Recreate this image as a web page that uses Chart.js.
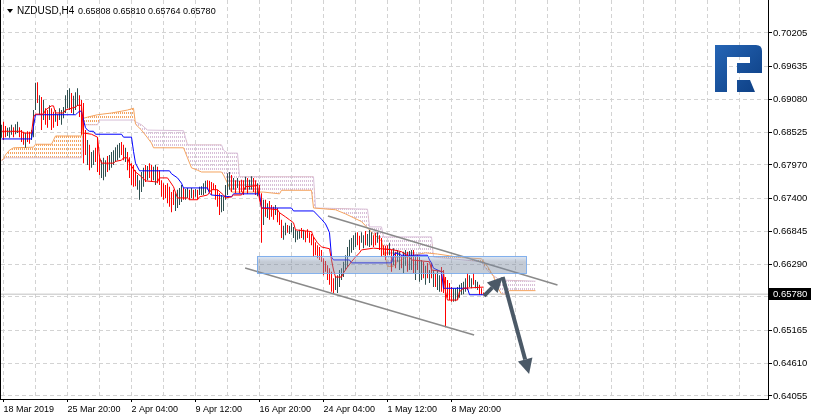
<!DOCTYPE html>
<html>
<head>
<meta charset="utf-8">
<title>NZDUSD H4</title>
<script src="https://cdn.jsdelivr.net/npm/chart.js@4.4.1/dist/chart.umd.min.js"></script>
<style>
  html, body { margin: 0; padding: 0; background: #fff; }
  canvas { display: block; }
</style>
</head>
<body>
<canvas id="chart" width="814" height="420"></canvas>
<script>
// NZDUSD H4 bars, index 0 = first visible bar (18 Mar 2019), one bar per 4 hours
const highs = [
  0.6865, 0.6870, 0.6863, 0.6860, 0.6861, 0.6865, 0.6861, 0.6866, 0.6870, 0.6861,
  0.6856, 0.6853, 0.6851, 0.6854, 0.6853, 0.6856, 0.6890, 0.6936, 0.6937, 0.6915,
  0.6912, 0.6907, 0.6893, 0.6890, 0.6898, 0.6893, 0.6887, 0.6890, 0.6883, 0.6893,
  0.6890, 0.6895, 0.6915, 0.6924, 0.6927, 0.6919, 0.6914, 0.6920, 0.6927, 0.6915,
  0.6907, 0.6902, 0.6856, 0.6839, 0.6831, 0.6819, 0.6822, 0.6826, 0.6844, 0.6814,
  0.6805, 0.6809, 0.6805, 0.6812, 0.6814, 0.6819, 0.6822, 0.6827, 0.6831, 0.6834,
  0.6836, 0.6831, 0.6826, 0.6819, 0.6810, 0.6800, 0.6797, 0.6788, 0.6780, 0.6771,
  0.6785, 0.6792, 0.6797, 0.6795, 0.6800, 0.6797, 0.6794, 0.6797, 0.6794, 0.6788,
  0.6771, 0.6766, 0.6763, 0.6766, 0.6760, 0.6751, 0.6755, 0.6749, 0.6755, 0.6758,
  0.6763, 0.6758, 0.6756, 0.6758, 0.6755, 0.6758, 0.6755, 0.6756, 0.6755, 0.6760,
  0.6761, 0.6766, 0.6770, 0.6771, 0.6770, 0.6768, 0.6766, 0.6763, 0.6755, 0.6749,
  0.6746, 0.6743, 0.6763, 0.6783, 0.6785, 0.6780, 0.6775, 0.6771, 0.6775, 0.6770,
  0.6772, 0.6771, 0.6777, 0.6775, 0.6772, 0.6778, 0.6775, 0.6771, 0.6766, 0.6763,
  0.6749, 0.6738, 0.6738, 0.6732, 0.6736, 0.6729, 0.6726, 0.6729, 0.6724, 0.6717,
  0.6704, 0.6694, 0.6699, 0.6695, 0.6694, 0.6699, 0.6692, 0.6687, 0.6685, 0.6687,
  0.6690, 0.6687, 0.6685, 0.6688, 0.6683, 0.6680, 0.6675, 0.6666, 0.6661, 0.6658,
  0.6653, 0.6639, 0.6634, 0.6627, 0.6622, 0.6616, 0.6605, 0.6609, 0.6610, 0.6619,
  0.6622, 0.6633, 0.6644, 0.6658, 0.6670, 0.6673, 0.6678, 0.6682, 0.6683, 0.6677,
  0.6683, 0.6678, 0.6685, 0.6680, 0.6687, 0.6683, 0.6678, 0.6682, 0.6683, 0.6678,
  0.6673, 0.6661, 0.6660, 0.6661, 0.6665, 0.6653, 0.6656, 0.6650, 0.6653, 0.6650,
  0.6644, 0.6650, 0.6653, 0.6650, 0.6651, 0.6653, 0.6653, 0.6643, 0.6644, 0.6641,
  0.6636, 0.6633, 0.6626, 0.6631, 0.6619, 0.6631, 0.6619, 0.6614, 0.6619, 0.6610,
  0.6624, 0.6619, 0.6607, 0.6602, 0.6597, 0.6590, 0.6588, 0.6588, 0.6590, 0.6594,
  0.6597, 0.6599, 0.6605, 0.6614, 0.6610, 0.6605, 0.6614, 0.6602, 0.6599, 0.6594,
  0.6588, 0.6581
];
const lows = [
  0.6843, 0.6839, 0.6844, 0.6846, 0.6843, 0.6848, 0.6844, 0.6849, 0.6851, 0.6844,
  0.6836, 0.6831, 0.6826, 0.6836, 0.6833, 0.6839, 0.6844, 0.6890, 0.6902, 0.6882,
  0.6856, 0.6873, 0.6865, 0.6860, 0.6873, 0.6856, 0.6860, 0.6870, 0.6863, 0.6873,
  0.6865, 0.6876, 0.6885, 0.6893, 0.6890, 0.6885, 0.6882, 0.6890, 0.6897, 0.6878,
  0.6848, 0.6800, 0.6814, 0.6797, 0.6788, 0.6792, 0.6797, 0.6802, 0.6785, 0.6780,
  0.6775, 0.6771, 0.6777, 0.6785, 0.6788, 0.6792, 0.6797, 0.6802, 0.6805, 0.6809,
  0.6814, 0.6805, 0.6802, 0.6788, 0.6775, 0.6763, 0.6760, 0.6761, 0.6755, 0.6738,
  0.6751, 0.6760, 0.6768, 0.6771, 0.6775, 0.6768, 0.6771, 0.6763, 0.6766, 0.6763,
  0.6743, 0.6738, 0.6741, 0.6732, 0.6726, 0.6717, 0.6729, 0.6719, 0.6724, 0.6729,
  0.6734, 0.6738, 0.6738, 0.6741, 0.6738, 0.6741, 0.6739, 0.6743, 0.6738, 0.6746,
  0.6746, 0.6746, 0.6749, 0.6755, 0.6751, 0.6746, 0.6755, 0.6738, 0.6726, 0.6712,
  0.6717, 0.6719, 0.6738, 0.6746, 0.6755, 0.6751, 0.6755, 0.6749, 0.6758, 0.6749,
  0.6751, 0.6746, 0.6755, 0.6748, 0.6755, 0.6755, 0.6751, 0.6746, 0.6744, 0.6738,
  0.6665, 0.6695, 0.6709, 0.6707, 0.6704, 0.6709, 0.6704, 0.6712, 0.6700, 0.6695,
  0.6673, 0.6670, 0.6678, 0.6682, 0.6680, 0.6683, 0.6673, 0.6666, 0.6670, 0.6672,
  0.6673, 0.6670, 0.6666, 0.6673, 0.6665, 0.6661, 0.6641, 0.6644, 0.6639, 0.6636,
  0.6633, 0.6610, 0.6616, 0.6602, 0.6594, 0.6582, 0.6580, 0.6585, 0.6580, 0.6590,
  0.6602, 0.6607, 0.6619, 0.6624, 0.6641, 0.6648, 0.6653, 0.6658, 0.6661, 0.6653,
  0.6665, 0.6656, 0.6661, 0.6660, 0.6658, 0.6661, 0.6658, 0.6661, 0.6665, 0.6653,
  0.6641, 0.6644, 0.6636, 0.6644, 0.6644, 0.6616, 0.6627, 0.6622, 0.6633, 0.6619,
  0.6622, 0.6614, 0.6626, 0.6616, 0.6619, 0.6619, 0.6614, 0.6602, 0.6619, 0.6599,
  0.6602, 0.6605, 0.6594, 0.6605, 0.6597, 0.6605, 0.6590, 0.6590, 0.6585, 0.6582,
  0.6582, 0.6580, 0.6522, 0.6572, 0.6568, 0.6565, 0.6565, 0.6566, 0.6568, 0.6572,
  0.6577, 0.6578, 0.6582, 0.6585, 0.6590, 0.6588, 0.6594, 0.6588, 0.6585, 0.6577,
  0.6577, 0.6576
];
// g = bull bar (dark), r = bear bar (red)
const barSide =
  "grrgggrggr" + "rrgrrgggrg" + "rgrrgrrgrg" + "gggggrgggr" + "rrrgrggrrr" +
  "gggrgggggg" + "rrgrrrrrgg" + "ggrgrrggrr" + "rrrrrrrggg" + "grggrgrgrg" +
  "gggrrrrrrr" + "gggggrgrgr" + "rrgrggrrgr" + "rgrgrrrgrr" + "rggrgggggg" +
  "rgrrrrrrrr" + "rrrrrrrggg" + "ggggggggrr" + "ggrgggrrgr" + "rrrrgrgrgg" +
  "rggrggrgrg" + "grgrgrgrgg" + "rrrrrrgggg" + "gggrggrggr" + "rr";

// Ichimoku lines, [bar, price] at the points where they change
const tenkan = [
  [0, 0.6854], [10, 0.6854], [11, 0.6851], [15, 0.6851], [16, 0.6878], [17, 0.6883], [21, 0.6883],
  [22, 0.6890], [24, 0.6895], [25, 0.6897], [26, 0.6897], [27, 0.6885], [31, 0.6885], [32, 0.6890],
  [35, 0.6893], [37, 0.6895], [38, 0.6898], [40, 0.6898], [41, 0.6851], [45, 0.6849], [48, 0.6844],
  [49, 0.6810], [50, 0.6800], [56, 0.6800], [57, 0.6803], [60, 0.6805], [61, 0.6809], [63, 0.6809],
  [64, 0.6800], [67, 0.6785], [70, 0.6777], [72, 0.6770], [78, 0.6768], [79, 0.6775], [83, 0.6775],
  [84, 0.6770], [86, 0.6760], [88, 0.6741], [93, 0.6741], [94, 0.6738], [98, 0.6738], [99, 0.6743],
  [103, 0.6746], [105, 0.6755], [108, 0.6755], [111, 0.6746], [112, 0.6741], [115, 0.6743],
  [116, 0.6746], [120, 0.6746], [122, 0.6760], [128, 0.6762], [129, 0.6738], [130, 0.6724],
  [138, 0.6721], [139, 0.6716], [142, 0.6709], [144, 0.6704], [146, 0.6699], [147, 0.6687],
  [155, 0.6684], [156, 0.6675], [158, 0.6665], [160, 0.6658], [164, 0.6655], [165, 0.6636],
  [166, 0.6619], [167, 0.6607], [170, 0.6607], [171, 0.6614], [173, 0.6624], [175, 0.6633],
  [177, 0.6641], [179, 0.6648], [180, 0.6653], [186, 0.6656], [196, 0.6653], [200, 0.6650],
  [204, 0.6641], [205, 0.6636], [214, 0.6633], [215, 0.6619], [221, 0.6616], [222, 0.6582],
  [223, 0.6568], [228, 0.6568], [229, 0.6582], [231, 0.6588], [241, 0.6590]
];
const kijun = [
  [0, 0.6841], [15, 0.6841], [16, 0.6862], [17, 0.6882], [37, 0.6882], [38, 0.6885], [39, 0.6888],
  [40, 0.6888], [41, 0.6873], [42, 0.6860], [43, 0.6856], [44, 0.6854], [46, 0.6854], [47, 0.6849],
  [60, 0.6849], [61, 0.6844], [65, 0.6844], [66, 0.6820], [67, 0.6800], [69, 0.6787], [84, 0.6787],
  [85, 0.6782], [88, 0.6775], [90, 0.6766], [91, 0.6758], [103, 0.6758], [104, 0.6749], [105, 0.6746],
  [115, 0.6743], [116, 0.6748], [129, 0.6748], [130, 0.6724], [145, 0.6724], [146, 0.6719],
  [156, 0.6719], [158, 0.6712], [160, 0.6705], [162, 0.6697], [163, 0.6690], [164, 0.6682],
  [165, 0.6641], [166, 0.6636], [174, 0.6636], [175, 0.6631], [195, 0.6631], [196, 0.6643],
  [197, 0.6648], [200, 0.6644], [213, 0.6644], [214, 0.6636], [215, 0.6631], [216, 0.6622],
  [220, 0.6616], [221, 0.6588], [233, 0.6588], [234, 0.6577], [241, 0.6577]
];
const senkouA = [
  [0, 0.6805], [1, 0.6807], [2, 0.6814], [4, 0.6822], [6, 0.6826], [16, 0.6827], [17, 0.6832],
  [25, 0.6832], [26, 0.6839], [27, 0.6846], [40, 0.6846], [41, 0.6876], [43, 0.6878], [48, 0.6882],
  [55, 0.6885], [60, 0.6888], [63, 0.6890], [66, 0.6893], [67, 0.6866], [70, 0.6856], [73, 0.6843],
  [75, 0.6834], [76, 0.6826], [91, 0.6826], [93, 0.6809], [95, 0.6792], [98, 0.6788], [100, 0.6785],
  [110, 0.6785], [111, 0.6780], [113, 0.6766], [115, 0.6751], [131, 0.6751], [139, 0.6748],
  [140, 0.6754], [155, 0.6754], [156, 0.6724], [167, 0.6721], [172, 0.6714], [180, 0.6701],
  [185, 0.6683], [190, 0.6668], [193, 0.6625], [196, 0.6625], [198, 0.6633], [202, 0.6640],
  [206, 0.6644], [212, 0.6648], [218, 0.6646], [224, 0.6643], [230, 0.6640], [240, 0.6638],
  [243, 0.6625], [246, 0.6608], [248, 0.6590], [250, 0.6578], [252, 0.6578], [254, 0.6584],
  [267, 0.6584]
];
const senkouB = [
  [0, 0.6804], [2, 0.6809], [40, 0.6809], [41, 0.6865], [48, 0.6865], [49, 0.6873], [66, 0.6873],
  [67, 0.6870], [70, 0.6865], [73, 0.6856], [91, 0.6855], [92, 0.6843], [93, 0.6831], [110, 0.6831],
  [111, 0.6822], [113, 0.6817], [118, 0.6817], [119, 0.6777], [156, 0.6777], [157, 0.6724],
  [183, 0.6722], [184, 0.6692], [190, 0.6692], [191, 0.6675], [215, 0.6675], [216, 0.6641],
  [240, 0.6633], [242, 0.6622], [245, 0.6612], [249, 0.6602], [267, 0.6600]
];

// drawn objects, in bars and prices
const channelTop = [[163.2, 0.67105], [278, 0.65936]];
const channelBottom = [[121.8, 0.66224], [236.3, 0.65089]];
const zone = { from: 127.8, to: 262.3, high: 0.66427, low: 0.66139 };
const arrowUp = [[241.3, 0.65750], [250.6, 0.66072]];
const arrowDown = [[250.6, 0.66072], [263.8, 0.64428]];
const lastPrice = 0.65780;

const timeLabels = ["18 Mar 2019", "25 Mar 20:00", "2 Apr 04:00", "9 Apr 12:00",
  "16 Apr 20:00", "24 Apr 04:00", "1 May 12:00", "8 May 20:00"];
const timeLabelBars = [1, 33, 65, 97, 129, 161, 193, 225];
const priceTicks = [0.70205, 0.69635, 0.69080, 0.68525, 0.67970, 0.67400,
  0.66845, 0.66290, 0.65735, 0.65165, 0.64610, 0.64055];
const priceLabels = ["0.70205", "0.69635", "0.69080", "0.68525", "0.67970", "0.67400",
  "0.66845", "0.66290", "0.65735", "0.65165", "0.64610", "0.64055"];
const title = "NZDUSD,H4";
const ohlc = "0.65808 0.65810 0.65764 0.65780";

const FONT = "'Liberation Sans', Arial, sans-serif";
const pts = arr => arr.map(p => ({ x: p[0], y: p[1] }));

function barsOf(side) {
  const out = [];
  highs.forEach((h, i) => { if (barSide[i] === side) out.push({ x: i, y: [lows[i], h] }); });
  return out;
}

function hatch(color) {
  const c = document.createElement("canvas");
  c.width = 2; c.height = 4;
  const g = c.getContext("2d");
  g.fillStyle = color;
  g.fillRect(0, 0, 1, 2);
  return g.createPattern(c, "repeat");
}

function drawArrow(ctx, ax, ay, bx, by) {
  const ang = Math.atan2(by - ay, bx - ax);
  const len = 15, half = 7.5;
  const sx = bx - Math.cos(ang) * len, sy = by - Math.sin(ang) * len;
  ctx.beginPath();
  ctx.moveTo(ax, ay);
  ctx.lineTo(sx, sy);
  ctx.stroke();
  ctx.beginPath();
  ctx.moveTo(bx, by);
  ctx.lineTo(sx + Math.sin(ang) * half, sy - Math.cos(ang) * half);
  ctx.lineTo(sx - Math.sin(ang) * half, sy + Math.cos(ang) * half);
  ctx.closePath();
  ctx.fill();
}

function drawLogo(ctx, left, top) {
  const grad = ctx.createLinearGradient(left, top, left + 46, top + 46);
  grad.addColorStop(0, "#2565b5");
  grad.addColorStop(1, "#0d3f84");
  ctx.fillStyle = grad;
  ctx.beginPath();
  ctx.moveTo(left, top);
  ctx.lineTo(left + 41, top);
  ctx.quadraticCurveTo(left + 47, top, left + 47, top + 6);
  ctx.lineTo(left + 47, top + 28);
  ctx.lineTo(left + 22, top + 28);
  ctx.lineTo(left + 22, top + 18);
  ctx.lineTo(left + 35, top + 18);
  ctx.lineTo(left + 35, top + 12);
  ctx.lineTo(left + 12, top + 12);
  ctx.lineTo(left + 12, top + 47);
  ctx.lineTo(left, top + 47);
  ctx.closePath();
  ctx.fill();
  ctx.beginPath();
  ctx.moveTo(left + 22, top + 35);
  ctx.lineTo(left + 35, top + 35);
  ctx.lineTo(left + 40, top + 47);
  ctx.lineTo(left + 22, top + 47);
  ctx.closePath();
  ctx.fill();
}

const overlay = {
  id: "overlay",
  afterDatasetsDraw(chart) {
    const { ctx, scales: { x, y } } = chart;
    ctx.save();
    const x0 = x.getPixelForValue(zone.from), x1 = x.getPixelForValue(zone.to);
    const y0 = y.getPixelForValue(zone.high), y1 = y.getPixelForValue(zone.low);
    // support/resistance zone: lighter band on top, slate grey below
    const shade = ctx.createLinearGradient(0, y0, 0, y1);
    shade.addColorStop(0, "rgba(175,200,235,0.40)");
    shade.addColorStop(0.35, "rgba(120,135,158,0.44)");
    shade.addColorStop(1, "rgba(125,140,162,0.44)");
    ctx.fillStyle = shade;
    ctx.fillRect(x0, y0, x1 - x0, y1 - y0);
    ctx.strokeStyle = "rgba(120,170,235,0.9)";
    ctx.lineWidth = 1;
    ctx.strokeRect(Math.round(x0) + 0.5, Math.round(y0) + 0.5, Math.round(x1 - x0), Math.round(y1 - y0));

    ctx.strokeStyle = "#4b5967";
    ctx.fillStyle = "#4b5967";
    ctx.lineWidth = 4;
    for (const a of [arrowUp, arrowDown]) {
      drawArrow(ctx, x.getPixelForValue(a[0][0]), y.getPixelForValue(a[0][1]),
        x.getPixelForValue(a[1][0]), y.getPixelForValue(a[1][1]));
    }
    ctx.restore();
  },
  afterDraw(chart) {
    const { ctx, chartArea, scales: { y } } = chart;
    ctx.save();
    // left frame
    ctx.fillStyle = "#000";
    ctx.fillRect(0, 0, 1, chartArea.bottom + 1);
    // header
    ctx.beginPath();
    ctx.moveTo(7, 9); ctx.lineTo(13, 9); ctx.lineTo(10, 13); ctx.closePath();
    ctx.fill();
    ctx.textBaseline = "alphabetic";
    ctx.font = "10px " + FONT;
    ctx.fillText(title, 17, 14);
    ctx.font = "9px " + FONT;
    ctx.fillText(ohlc, 78, 14);
    // last price box
    const py = Math.round(y.getPixelForValue(lastPrice));
    ctx.fillStyle = "#000";
    ctx.fillRect(chartArea.right + 1, py - 6, 42, 12);
    ctx.fillStyle = "#fff";
    ctx.font = "9.5px " + FONT;
    ctx.textBaseline = "middle";
    ctx.fillText(lastPrice.toFixed(5), chartArea.right + 5, py + 0.5);
    drawLogo(ctx, 715, 45);
    ctx.restore();
  }
};

const gridBars = [];
for (let b = 1; b < 384; b += 16) gridBars.push(b);

const lineDs = (data, color, width) => ({
  type: "line", data: pts(data), borderColor: color, borderWidth: width,
  pointRadius: 0, tension: 0, fill: false
});
const barDs = (side, color) => ({
  type: "bar", data: barsOf(side), backgroundColor: color, borderColor: color,
  barThickness: 1, inflateAmount: 0, borderWidth: 0, stack: "ohlc"
});

const noPadding = s => { s.paddingTop = 0; s.paddingBottom = 0; s.paddingLeft = 0; s.paddingRight = 0; };

new Chart(document.getElementById("chart"), {
  type: "line",
  data: {
    datasets: [
      lineDs(channelTop, "#8a8a8a", 1.5),
      lineDs(channelBottom, "#8a8a8a", 1.5),
      lineDs(tenkan, "#ff0000", 1),
      lineDs(kijun, "#0000ff", 1),
      barDs("r", "#ff0000"),
      barDs("g", "#2f4f4f"),
      lineDs([[-0.25, lastPrice], [383.25, lastPrice]], "#c0c0c0", 1),
      Object.assign(lineDs(senkouA, "#f4a460", 1), {
        fill: { target: 8, above: hatch("#f4a460"), below: hatch("#d8bfd8") }
      }),
      lineDs(senkouB, "#d8bfd8", 1)
    ]
  },
  options: {
    responsive: false,
    animation: false,
    devicePixelRatio: 1,
    events: [],
    layout: { padding: { left: 1, top: 0, right: 0, bottom: 0 } },
    plugins: { legend: { display: false }, tooltip: { enabled: false } },
    scales: {
      x: {
        type: "linear",
        min: -0.25,
        max: 383.25,
        offset: false,
        afterBuildTicks: s => { s.ticks = gridBars.map(v => ({ value: v })); },
        afterFit: s => { s.height = 21; noPadding(s); },
        grid: {
          color: "#d3d3d3", offset: false, drawTicks: true, tickLength: 3, tickBorderDash: [],
          tickColor: c => timeLabelBars.includes(c.tick && c.tick.value) ? "#000" : "rgba(0,0,0,0)"
        },
        border: { display: true, color: "#000", width: 1, dash: [4, 3] },
        ticks: {
          autoSkip: false, maxRotation: 0, align: "start", padding: 2, color: "#000",
          font: { family: FONT, size: 9 },
          callback: v => { const k = timeLabelBars.indexOf(v); return k < 0 ? "" : timeLabels[k]; }
        }
      },
      y: {
        type: "linear",
        position: "right",
        stacked: false,
        min: 0.64004,
        max: 0.70764,
        afterBuildTicks: s => { s.ticks = priceTicks.map(v => ({ value: v })); },
        afterFit: s => { s.width = 46; noPadding(s); },
        grid: { color: "#d3d3d3", drawTicks: true, tickLength: 4, tickColor: "#000", tickBorderDash: [] },
        border: { display: true, color: "#000", width: 1, dash: [4, 3] },
        ticks: {
          padding: 1, color: "#000",
          font: { family: FONT, size: 9.5 },
          callback: (v, i) => priceLabels[i]
        }
      }
    }
  },
  plugins: [overlay]
});
</script>
</body>
</html>
